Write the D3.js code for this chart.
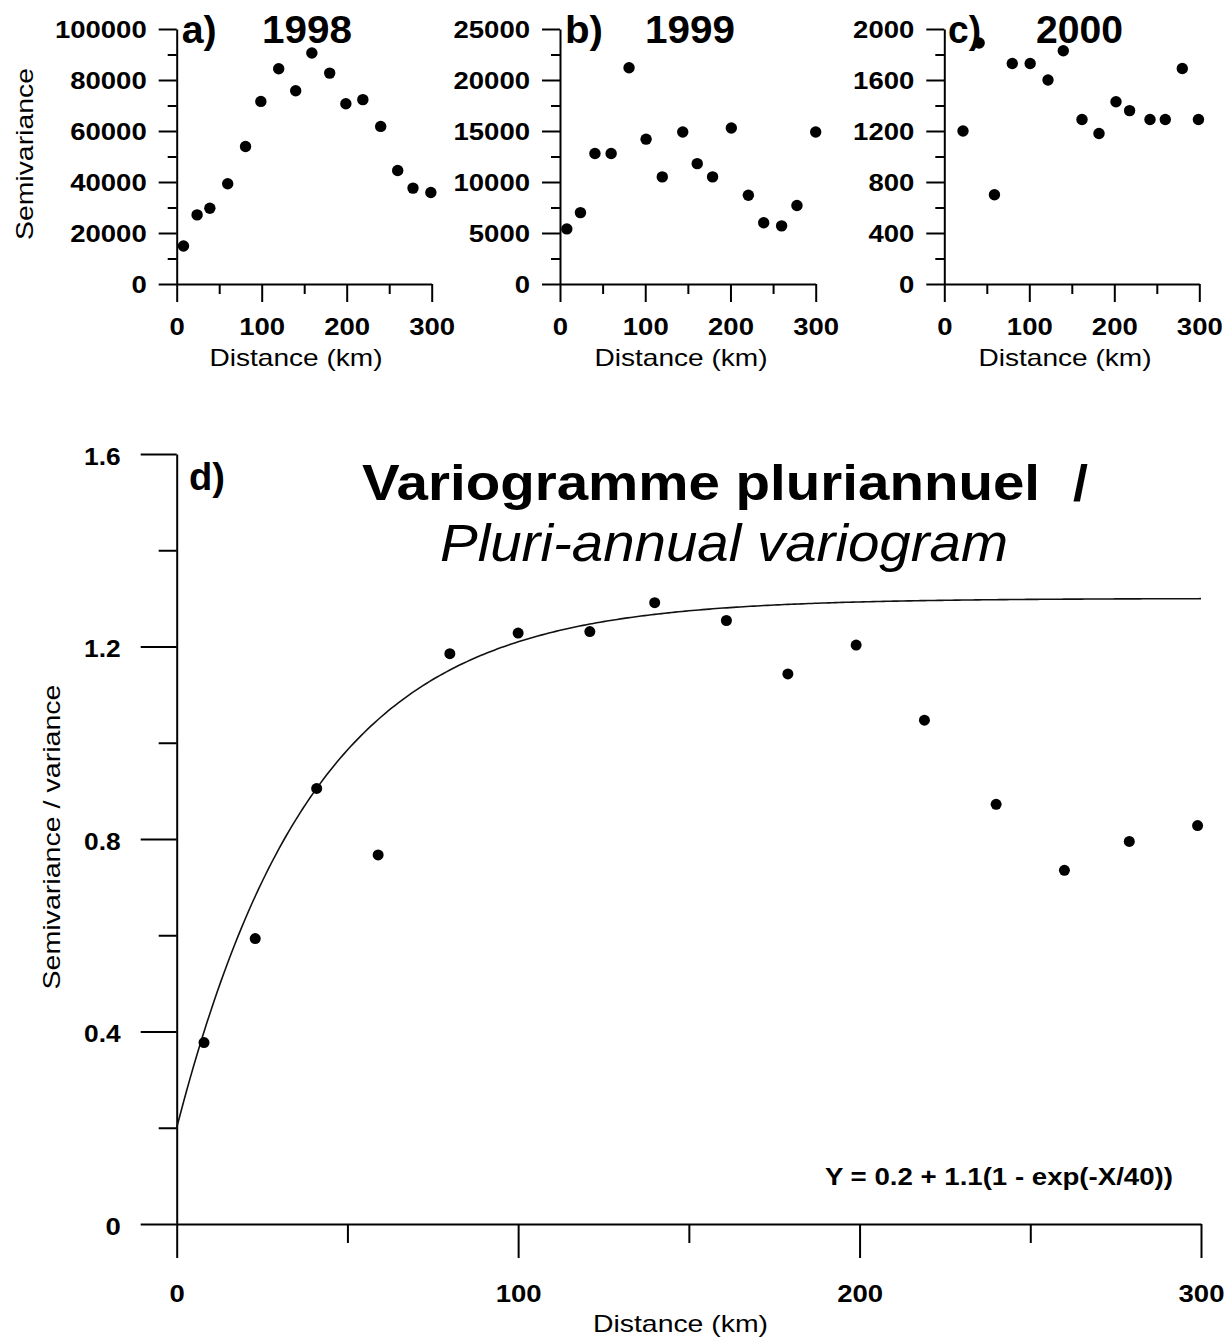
<!DOCTYPE html>
<html>
<head>
<meta charset="utf-8">
<script src="https://cdn.jsdelivr.net/npm/d3@7"></script>
<style>
  body { margin: 0; background: #fff; }
  svg { display: block; }
</style>
</head>
<body>
<div id="chart"></div>
<script>
// ---------------- DATA ----------------
// a) 1998
const distA = [8, 24, 39, 60, 81, 99, 120, 140, 159, 180, 199, 219, 240, 260, 278, 299];
const semA  = [14900, 27100, 29700, 39300, 53900, 71600, 84400, 75800, 90600, 82700, 70700, 72300, 61800, 44500, 37600, 35900];
// b) 1999
const distB = [8, 24, 41, 60, 81, 101, 120, 144, 161, 179, 201, 221, 239, 260, 278, 300];
const semB  = [5400, 7000, 12800, 12800, 21200, 14200, 10500, 14900, 11800, 10500, 15300, 8700, 6000, 5700, 7700, 14900];
// c) 2000
const distC = [22, 41, 59, 80, 101, 122, 140, 162, 182, 202, 218, 242, 260, 280, 299];
const semC  = [1200, 1890, 700, 1730, 1730, 1600, 1830, 1290, 1180, 1430, 1360, 1290, 1290, 1690, 1290];
// d) pluri-annual (semivariance / variance)
const distD = [8, 23, 41, 59, 80, 100, 121, 140, 161, 179, 199, 219, 240, 260, 279, 299];
const semD  = [0.377, 0.593, 0.905, 0.767, 1.185, 1.228, 1.231, 1.291, 1.254, 1.143, 1.203, 1.047, 0.872, 0.735, 0.795, 0.828];
// fitted exponential model shown on the chart: Y = 0.2 + 1.1(1 - exp(-X/40))
const modelNugget = 0.2;
const modelSill = 1.1;
const modelRange = 40;

// tick values
const xTicksMajor = [0, 100, 200, 300];
const xTicksMinor = [50, 150, 250];
const yMajorA = [0, 20000, 40000, 60000, 80000, 100000];
const yMinorA = [10000, 30000, 50000, 70000, 90000];
const yMajorB = [0, 5000, 10000, 15000, 20000, 25000];
const yMinorB = [2500, 7500, 12500, 17500, 22500];
const yMajorC = [0, 400, 800, 1200, 1600, 2000];
const yMinorC = [200, 600, 1000, 1400, 1800];
const yMajorD = [0, 0.4, 0.8, 1.2, 1.6];
const yMinorD = [0.2, 0.6, 1.0, 1.4];

// texts
const panelLetters = ["a)", "b)", "c)", "d)"];
const panelYears = ["1998", "1999", "2000"];
const titleFr = "Variogramme pluriannuel";
const titleSep = "/";
const titleEn = "Pluri-annual variogram";
const formulaText = "Y = 0.2 + 1.1(1 - exp(-X/40))";
const xTitle = "Distance (km)";
const yTitleTop = "Semivariance";
const yTitleD = "Semivariance / variance";

// ---------------- DRAW ----------------
const FONT = "'Liberation Sans', Arial, Helvetica, sans-serif";
const W = 1230, H = 1337;
const svg = d3.select("#chart").append("svg")
  .attr("width", W).attr("height", H)
  .style("font-family", FONT);

function labelWidth(s, dw) {
  let w = 0;
  for (const c of s) w += (c === ".") ? 6 : dw;
  return w;
}

function styleAxis(sel) {
  sel.attr("font-family", null).attr("font-size", null);
  sel.selectAll(".domain").attr("stroke", "#000").attr("stroke-width", 2);
  sel.selectAll(".tick line").attr("stroke", "#000").attr("stroke-width", 2);
}

function panel(o) {
  const g = svg.append("g");
  const x = d3.scaleLinear().domain([0, 300]).range(o.xr);
  const y = d3.scaleLinear().domain(o.yd).range(o.yr);

  // y minor ticks
  g.append("g").attr("transform", `translate(${o.xr[0]},0)`)
    .call(d3.axisLeft(y).tickValues(o.yMinor).tickSize(o.yMinLen).tickSizeOuter(0).tickFormat(""))
    .call(styleAxis).call(s => s.select(".domain").remove());
  // x minor ticks
  g.append("g").attr("transform", `translate(0,${o.yr[0]})`)
    .call(d3.axisBottom(x).tickValues(xTicksMinor).tickSize(o.xMinLen).tickSizeOuter(0).tickFormat(""))
    .call(styleAxis).call(s => s.select(".domain").remove());

  // y major
  const ya = g.append("g").attr("transform", `translate(${o.xr[0]},0)`)
    .call(d3.axisLeft(y).tickValues(o.yMajor).tickSize(o.yMajLen).tickSizeOuter(0).tickFormat(o.yFmt))
    .call(styleAxis);
  ya.selectAll(".tick text")
    .attr("x", -o.yLabOff).attr("dy", o.yDy)
    .attr("font-size", 23).attr("font-weight", "bold").attr("fill", "#000")
    .attr("text-anchor", "end")
    .each(function () {
      const t = d3.select(this).text();
      d3.select(this).attr("textLength", labelWidth(t, 15.3)).attr("lengthAdjust", "spacingAndGlyphs");
    });

  // x major
  const xa = g.append("g").attr("transform", `translate(0,${o.yr[0]})`)
    .call(d3.axisBottom(x).tickValues(xTicksMajor).tickSize(o.xMajLen).tickSizeOuter(0).tickFormat(d3.format("d")))
    .call(styleAxis);
  xa.selectAll(".tick text")
    .attr("y", o.xLabOff).attr("dy", 0)
    .attr("font-size", 23).attr("font-weight", "bold").attr("fill", "#000")
    .each(function () {
      const t = d3.select(this).text();
      d3.select(this).attr("textLength", labelWidth(t, 15.3)).attr("lengthAdjust", "spacingAndGlyphs");
    });

  // x title
  g.append("text").attr("x", o.xTitleX).attr("y", o.xTitleY)
    .attr("text-anchor", "middle").attr("font-size", 24)
    .attr("textLength", o.xTitleLen).attr("lengthAdjust", "spacingAndGlyphs")
    .text(xTitle);

  return { g, x, y };
}

function dots(p, xs, ys, r) {
  p.g.append("g").selectAll("circle").data(xs).join("circle")
    .attr("cx", d => p.x(d))
    .attr("cy", (d, i) => p.y(ys[i]))
    .attr("r", r).attr("fill", "#000");
}

function bigText(x, y, txt, size, len, weight, style) {
  return svg.append("text").attr("x", x).attr("y", y)
    .attr("font-size", size).attr("font-weight", weight || "bold")
    .attr("font-style", style || "normal")
    .attr("textLength", len).attr("lengthAdjust", "spacingAndGlyphs")
    .text(txt);
}

const smallCommon = { yd: null, yr: [284, 29], yMajLen: 18, yMinLen: 9, xMajLen: 18, xMinLen: 10,
  yLabOff: 30, yDy: 8, xLabOff: 51, xTitleY: 366, xTitleLen: 173, yFmt: d3.format("d") };

// Panel a
const pA = panel(Object.assign({}, smallCommon, { xr: [176.7, 431.7], yd: [0, 100000],
  yMajor: yMajorA, yMinor: yMinorA, xTitleX: 296 }));
// Panel b
const pB = panel(Object.assign({}, smallCommon, { xr: [560, 815.7], yd: [0, 25000],
  yMajor: yMajorB, yMinor: yMinorB, xTitleX: 681 }));
// Panel c
const pC = panel(Object.assign({}, smallCommon, { xr: [944.3, 1199.3], yd: [0, 2000],
  yMajor: yMajorC, yMinor: yMinorC, xTitleX: 1065 }));
// Panel d
const pD = panel({ xr: [176.7, 1201], yd: [0, 1.6], yr: [1224, 454],
  yMajor: yMajorD, yMinor: yMinorD, yMajLen: 36, yMinLen: 18, xMajLen: 34, xMinLen: 19,
  yLabOff: 56, yDy: 10, xLabOff: 78, xTitleX: 680.5, xTitleY: 1332, xTitleLen: 175,
  yFmt: d => d === 0 ? "0" : d3.format(".1f")(d) });

// y titles
svg.append("text").attr("transform", "translate(33,154) rotate(-90)")
  .attr("text-anchor", "middle").attr("font-size", 24)
  .attr("textLength", 172).attr("lengthAdjust", "spacingAndGlyphs").text(yTitleTop);
svg.append("text").attr("transform", "translate(60,837) rotate(-90)")
  .attr("text-anchor", "middle").attr("font-size", 24)
  .attr("textLength", 305).attr("lengthAdjust", "spacingAndGlyphs").text(yTitleD);

// Panel titles
bigText(181.7, 43, panelLetters[0], 38, 35);
bigText(262, 43, panelYears[0], 38, 90);
bigText(565, 43, panelLetters[1], 38, 38);
bigText(645, 43, panelYears[1], 38, 90);
bigText(948, 43, panelLetters[2], 38, 33);
bigText(1036, 43, panelYears[2], 38, 87);
bigText(189, 490, panelLetters[3], 38, 36);

// Main title
bigText(362, 500, titleFr, 50, 678);
bigText(1073, 500, titleSep, 50, 15);
bigText(440, 561, titleEn, 51, 568, "normal", "italic");

// Formula
bigText(825, 1185, formulaText, 23, 348);

// Model curve
const curveX = d3.range(0, 300.5, 1);
const model = d => modelNugget + modelSill * (1 - Math.exp(-d / modelRange));
pD.g.append("path")
  .datum(curveX)
  .attr("fill", "none").attr("stroke", "#111").attr("stroke-width", 1.6)
  .attr("d", d3.line().x(d => pD.x(d)).y(d => pD.y(model(d))));

// points
dots(pA, distA, semA, 5.7);
dots(pB, distB, semB, 5.7);
dots(pC, distC, semC, 5.7);
dots(pD, distD, semD, 5.5);
</script>
</body>
</html>
